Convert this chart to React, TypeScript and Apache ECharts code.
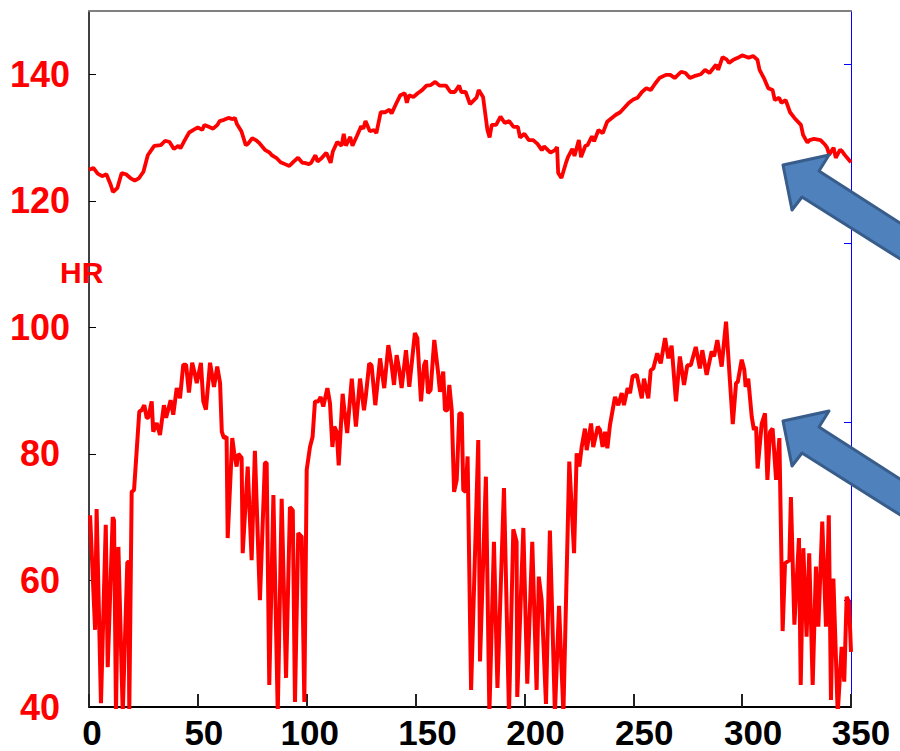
import React, { useEffect, useRef } from "react";
import * as echarts from "echarts";

// Upper HR trace: [time, HR]
const upperHR: [number, number][] = [
  [0, 124.9], [2, 125.2], [4, 124.3], [6, 123.9], [8, 124.2], [10, 122.5], [11, 121.4], [13, 122],
  [15, 124.4], [17, 124.2], [19, 123.6], [21, 123.2], [23, 123.6], [25, 124.6], [27, 127.2], [29, 128.2],
  [30, 128.7], [33, 128.8], [35, 129.5], [37, 129.3], [39, 128.2], [41, 128.7], [42, 128.3], [44, 129.6],
  [46, 130.8], [48, 131.2], [50, 131.6], [52, 131.2], [53, 132], [55, 131.7], [57, 131.4], [59, 132],
  [60, 132.6], [62, 132.8], [64, 133.1], [66, 132.9], [67, 133.1], [68, 132.1], [70, 131], [72, 128.8],
  [73, 129], [75, 129.9], [77, 129.5], [78, 129.2], [81, 128], [83, 127.6], [84, 127.2], [86, 126.8],
  [88, 126.1], [90, 125.8], [92, 125.5], [94, 126.2], [96, 126.8], [98, 126], [99, 126], [101, 125.8],
  [102, 126], [104, 127.2], [105, 126.2], [107, 126.8], [109, 127.6], [111, 126], [112, 127.8], [114, 129.3],
  [116, 128.7], [117, 130.6], [118, 128.7], [120, 130.1], [121, 128.7], [123, 130.2], [125, 131.8], [126, 131.4],
  [127, 132.6], [129, 131], [131, 131.2], [132, 130.7], [134, 134], [136, 134], [138, 134.4], [139, 133.8],
  [141, 135.3], [143, 136.7], [145, 137], [146, 135.5], [147, 136.7], [149, 136.4], [151, 137], [153, 137.5],
  [155, 138.2], [157, 138.3], [159, 138.8], [161, 138.2], [164, 138.2], [166, 137.2], [168, 137.2], [170, 138.2],
  [171, 137.2], [173, 137.2], [175, 135.3], [178, 136.3], [179, 137.5], [181, 136.4], [183, 131.2], [184, 130],
  [185, 132], [187, 132], [189, 133.3], [191, 132.3], [193, 132.6], [195, 131.7], [197, 131.7], [198, 130],
  [200, 130.6], [202, 129.6], [204, 129.6], [206, 129], [208, 128], [209, 128.6], [212, 127.6], [214, 128],
  [215, 128.5], [215.5, 124.4], [217, 123.6], [219, 125.9], [220, 126.9], [222, 128.2], [223, 127.1], [225, 129.6],
  [226, 126.9], [228, 128.7], [229, 128.8], [231, 130.2], [232, 129.4], [234, 131.2], [236, 130.7], [238, 132.5],
  [242, 133.6], [244, 134], [248, 135.5], [250, 136], [252, 136.3], [254, 137.2], [256, 137.8], [258, 137.5],
  [260, 138.5], [262, 139.4], [265, 139.9], [267, 139.9], [269, 139.4], [272, 140.4], [274, 140.2], [276, 139.4],
  [278, 139.7], [281, 140], [283, 140.7], [285, 140.2], [288, 141.5], [289, 140.7], [291, 142.7], [293, 142.3],
  [294, 141.8], [296, 142.3], [298, 142.6], [300, 143], [303, 142.6], [305, 142.9], [307, 142.3], [308, 140.7],
  [310, 139.4], [312, 137.8], [314, 137.5], [315, 135.9], [317, 136.3], [318, 135.5], [320, 135.9], [322, 134],
  [324, 133.1], [327, 132], [328, 130.4], [330, 129.2], [331, 129.6], [333, 129.8], [336, 129.6], [338, 128.9],
  [339, 128.4], [340, 127.3], [342, 128.4], [343, 126.8], [345, 128.1], [346, 127.8], [347, 127.3], [349, 126.5],
  [350, 126.1],
];

// Lower HR trace: [time, HR]
const lowerHR: [number, number][] = [
  [0.5, 70.3], [2.8, 52.2], [3.5, 71.3], [5.5, 40.6], [7.7, 68.8], [8.6, 46.3], [10.9, 70], [11.5, 69.5],
  [12.4, 39], [13.5, 65.3], [15.5, 39], [17.6, 62.9], [18.1, 62.9], [18.5, 39], [19.6, 74], [20.7, 74.3],
  [23.1, 86.7], [24.2, 86.9], [25.4, 87.7], [26.5, 85.7], [27.2, 85.7], [28.8, 88.3], [29.5, 83.5], [31.1, 84.9],
  [32.6, 83], [34.4, 87.7], [35.4, 85.7], [37.5, 88.5], [38.7, 86.2], [40.3, 90.4], [41.8, 88.8], [43.3, 94.1],
  [44.6, 94.1], [45.9, 89.7], [47.4, 94.4], [48.7, 92.5], [49.5, 91.2], [51.4, 94.4], [52.5, 88.3], [53.7, 87],
  [55.6, 94.4], [57.4, 90.6], [58.9, 93.8], [60.2, 91.2], [61, 83.5], [62, 82.5], [63.2, 82.7], [63.7, 66.7],
  [65.8, 82.5], [66.7, 80.1], [67.8, 78], [68.6, 80], [70.1, 79.4], [70.6, 64.3], [72.9, 78], [74.7, 63.2],
  [76.2, 80.5], [78.5, 56.9], [80.8, 78.6], [81.6, 78.6], [82.8, 43.5], [84.7, 73.5], [86.7, 39], [88.5, 72.9],
  [90.5, 44.6], [92.3, 71.6], [93.6, 71.1], [94.6, 40.8], [96.1, 67.5], [97.7, 66.9], [98.9, 40.8], [100, 77.5],
  [101.5, 81.1], [102.7, 82.7], [103.8, 88.3], [105.3, 88.3], [106.4, 89], [107.6, 87.5], [109.5, 90.4], [110.7, 88],
  [111.8, 81.1], [112.7, 84.3], [113.8, 83.5], [114.7, 78.2], [116.5, 89.5], [117.3, 86.9], [118.6, 83.3], [120.7, 91.9],
  [122.6, 84.3], [124.5, 91.9], [126.3, 86.9], [127.1, 89], [128.7, 94.3], [129.8, 94], [131.5, 87.7], [133.7, 95.1],
  [135.6, 90.4], [137.5, 97.2], [139, 94], [140.1, 90.9], [141.3, 95.6], [142.5, 93.3], [143.6, 90.4], [145.6, 96.4],
  [147.1, 90.6], [149.7, 99.1], [150.8, 98.3], [152.5, 88.3], [153.9, 94], [154.8, 94.8], [155.7, 89.6], [156.9, 90.1],
  [158.6, 98], [160.4, 92.7], [161.2, 89.8], [162.7, 93], [163.5, 86.9], [164.6, 86.9], [165.5, 90.9], [166.6, 86.9],
  [167.7, 74], [168.9, 75.9], [170.1, 86.4], [171.2, 86.4], [171.9, 74.3], [173, 74], [173.9, 79.6], [175.5, 42.7],
  [178.8, 82.2], [179.6, 47.2], [182.3, 76.4], [183.9, 39], [186, 66.1], [187.6, 43], [190.6, 74.6], [192.9, 39],
  [194.9, 68.1], [196.4, 66.1], [196.7, 41.6], [199.5, 68.3], [201.3, 43.7], [203.6, 66.1], [205.6, 42.7], [206.6, 60.6],
  [207.9, 56.9], [209.9, 40.5], [211.7, 67.9], [214, 39], [215.9, 56], [217.9, 39], [220.6, 78.8], [222.8, 64.3],
  [224, 80.1], [225.2, 78], [226.3, 81.1], [227.8, 84], [228.6, 80.6], [230.6, 84.8], [231.6, 81.1], [233.7, 84.3],
  [234.7, 83.8], [235.9, 81.1], [237, 83.5], [238.1, 80.9], [239.3, 84.6], [241.6, 89], [243.1, 87.7], [244.7, 89.6],
  [245.7, 87.7], [247.4, 90.4], [248.5, 89.6], [249.7, 92.3], [251.6, 92.5], [253.9, 88.8], [254.9, 91.9], [256.9, 88.8],
  [258, 93.2], [259.2, 93.5], [261, 95.9], [262.6, 94.3], [264.6, 98.3], [266.1, 95.1], [267.6, 97.1], [269.6, 88.3],
  [271.4, 95.4], [273.3, 90.9], [274.8, 94], [276.4, 94], [278.7, 96.9], [280.6, 93.5], [281.7, 96.4], [283.7, 92.5],
  [286, 96.2], [287.1, 95.4], [288.6, 98], [290.6, 93.8], [292.6, 100.9], [295.7, 84.7], [297.2, 91.2], [298, 91.4],
  [299.8, 94.9], [301, 93.3], [301.6, 90.6], [302.8, 91.9], [304.4, 85.9], [305.4, 83.8], [306.4, 84.3], [307.1, 77.7],
  [309, 84.8], [310.5, 86.4], [311.6, 75.9], [312.8, 83.5], [314, 84], [315.6, 75.9], [317.1, 82.5], [318.6, 52],
  [319.7, 62.7], [321.7, 63.2], [322.4, 73.2], [324, 53], [326.1, 66.7], [326.9, 43.5], [328.1, 65.1], [329.6, 51.1],
  [330.8, 64.3], [332.4, 43.5], [333.9, 62.2], [335, 52.7], [336.8, 69.3], [338.5, 52.7], [339.8, 70.3], [340.8, 41.1],
  [341.9, 60.3], [343.9, 39], [345.7, 49.5], [346.9, 44], [348, 57.4], [349.1, 56.6], [350, 48.7],
];

const yTickLabels = [40, 60, 80, 100, 120, 140];
const xTickLabels = [0, 50, 100, 150, 200, 250, 300, 350];
// Horizontal nudge (px) of each x label relative to its tick, as seen in the original
const xLabelNudge: Record<number, number> = { 0: 3, 50: 6, 100: 3, 150: 12, 200: 11, 250: 11, 300: 11, 350: 10 };
// Right-hand (secondary) axis tick positions, expressed on the HR scale
const rightTicks = [56.9, 85.05, 113.3, 141.6];

const FONT = '"Liberation Sans", Arial, sans-serif';

function arrow(dy: number) {
  return {
    type: "polygon",
    z: 100,
    shape: {
      points: [
        [783, 165 + dy],
        [829, 155 + dy],
        [819, 171 + dy],
        [970, 268 + dy],
        [970, 303 + dy],
        [802, 197 + dy],
        [792, 210 + dy],
      ],
    },
    style: { fill: "#4F81BD", stroke: "#385D8A", lineWidth: 3, lineJoin: "round" },
  };
}

export default function App() {
  const ref = useRef<HTMLDivElement>(null);

  useEffect(() => {
    document.body.style.margin = "0";
    if (!ref.current) return;
    const chart = echarts.init(ref.current, null, { renderer: "svg" });

    const rich: Record<string, any> = {};
    xTickLabels.forEach((v) => {
      rich["n" + v] = {
        fontSize: 35,
        fontWeight: "bold",
        color: "#000",
        fontFamily: FONT,
        padding: [0, 0, 0, 2 * (xLabelNudge[v] || 0)],
      };
    });

    chart.setOption({
      animation: false,
      backgroundColor: "#fff",
      grid: { left: 89, right: 49, top: 11, bottom: 44, containLabel: false },
      xAxis: [
        {
          type: "value",
          min: 0,
          max: 350,
          interval: 50,
          position: "bottom",
          axisLine: { show: true, onZero: false, lineStyle: { color: "#000", width: 2 } },
          axisTick: { show: true, inside: true, length: 13, lineStyle: { color: "#222", width: 2 } },
          splitLine: { show: false },
          axisLabel: {
            margin: 8,
            formatter: (v: number) => `{n${v}|${v}}`,
            rich,
          },
        },
        {
          type: "value",
          min: 0,
          max: 350,
          position: "top",
          axisLine: { show: true, onZero: false, lineStyle: { color: "#808080", width: 2 } },
          axisTick: { show: false },
          axisLabel: { show: false },
          splitLine: { show: false },
        },
      ],
      yAxis: [
        {
          type: "value",
          min: 40,
          max: 150,
          interval: 20,
          position: "left",
          axisLine: { show: true, onZero: false, lineStyle: { color: "#000", width: 1.5 } },
          axisTick: { show: true, inside: true, length: 7, lineStyle: { color: "#000", width: 1 } },
          splitLine: { show: false },
          axisLabel: {
            showMaxLabel: false,
            align: "center",
            margin: 49,
            color: "#FF0000",
            fontSize: 36,
            fontWeight: "bold",
            fontFamily: FONT,
            formatter: (v: number) => (yTickLabels.includes(v) ? String(v) : ""),
          },
        },
        {
          type: "value",
          min: 40,
          max: 150,
          position: "right",
          axisLine: { show: true, onZero: false, lineStyle: { color: "#0000FF", width: 1 } },
          axisTick: {
            show: true,
            inside: true,
            length: 7,
            customValues: rightTicks,
            lineStyle: { color: "#0000FF", width: 1 },
          },
          axisLabel: { show: false },
          splitLine: { show: false },
        },
      ],
      series: [
        {
          type: "line",
          data: upperHR,
          xAxisIndex: 0,
          yAxisIndex: 0,
          showSymbol: false,
          clip: true,
          lineStyle: { color: "#FF0000", width: 3.8 },
          z: 3,
        },
        {
          type: "line",
          data: lowerHR,
          xAxisIndex: 0,
          yAxisIndex: 0,
          showSymbol: false,
          clip: true,
          lineStyle: { color: "#FF0000", width: 4 },
          z: 3,
        },
      ],
      graphic: [
        {
          type: "text",
          left: 60,
          top: 257,
          z: 50,
          style: {
            text: "HR",
            fill: "#FF0000",
            fontSize: 30,
            fontWeight: "bold",
            fontFamily: FONT,
          },
        },
        arrow(0),
        arrow(256),
      ],
    });

    return () => chart.dispose();
  }, []);

  return <div ref={ref} style={{ width: 900, height: 751, overflow: "hidden" }} />;
}
